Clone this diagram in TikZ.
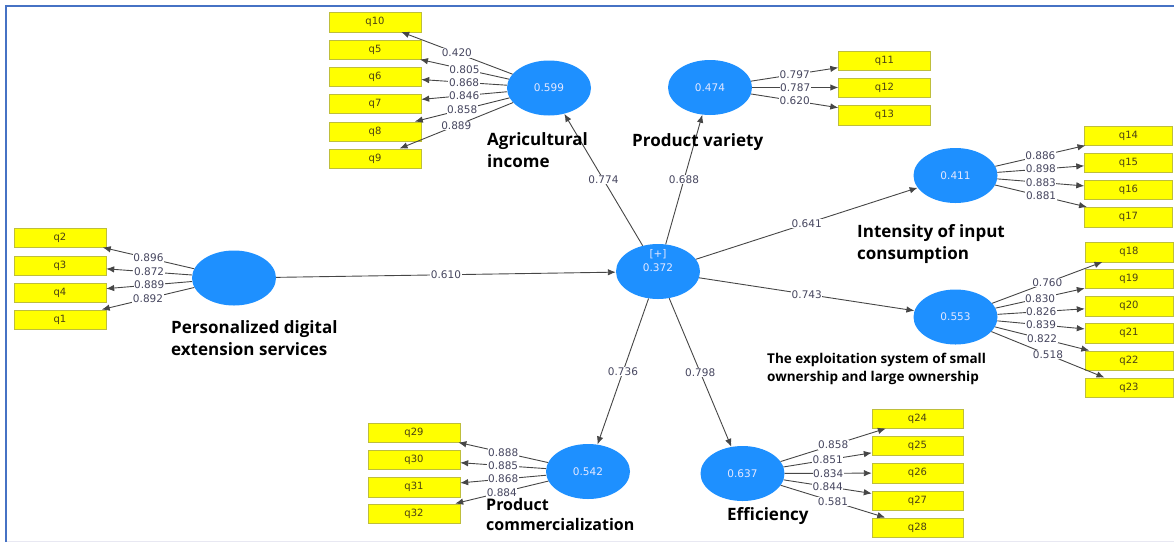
\documentclass[tikz,border=0pt]{standalone}
\usepackage{fontspec}
\setmainfont{DejaVu Sans}
\newfontfamily\cnfont{Open Sans}
\usetikzlibrary{shapes.geometric,arrows.meta}
\definecolor{lvblue}{RGB}{30,144,255}
\definecolor{lvtxt}{RGB}{228,232,255}
\definecolor{boxyel}{RGB}{255,255,0}
\definecolor{boxedge}{RGB}{190,190,60}
\definecolor{boxtxt}{RGB}{75,65,20}
\definecolor{wtxt}{RGB}{70,70,95}
\definecolor{pathcol}{RGB}{70,70,70}
\definecolor{framecol}{RGB}{70,114,196}
\definecolor{basecol}{RGB}{232,232,242}

\begin{document}
\begin{tikzpicture}[x=1pt,y=-1pt,>={Latex[length=8pt,width=6.5pt]},
  lv/.style={ellipse,fill=lvblue,minimum width=84pt,minimum height=55pt,inner sep=0pt,text=lvtxt,font=\fontsize{10.5}{13}\selectfont},
  ind/.style={rectangle,draw=boxedge,fill=boxyel,minimum width=92pt,minimum height=19.5pt,inner sep=0pt,text=boxtxt,font=\fontsize{10}{11}\selectfont},
  wt/.style={fill=white,inner sep=0.6pt,text=wtxt,font=\fontsize{10.5}{12}\selectfont},
  lnk/.style={->,draw=pathcol,line width=0.9pt},
  cname/.style={inner sep=0pt,align=left,font=\cnfont\bfseries\fontsize{17}{22}\selectfont}]
          \useasboundingbox (0,0) rectangle (1174,542);
          \draw[basecol, line width=1pt] (6,541) -- (1174,541);
          \draw[framecol, line width=2pt] (6,542) -- (6,6) -- (1174,6);
          \node[lv] (agr) at (549,88) {0.599};
          \node[lv] (pv) at (710,87.5) {0.474};
          \node[lv] (inp) at (955.5,175.5) {0.411};
          \node[lv] (exp) at (955.5,317) {0.553};
          \node[lv] (pds) at (234,278) {};
          \node[lv] (cen) at (658,271.5) {};
          \node[text=lvtxt, align=center, font=\fontsize{10.5}{14}\selectfont] (cenT) at (658,261) {[+]\\0.372};
          \node[lv] (com) at (588,471.5) {0.542};
          \node[lv] (eff) at (742.5,473.5) {0.637};
          \draw[lnk] (pds) -- (cen) node[midway,wt] {0.610};
          \draw[lnk] (cen) -- (agr) node[midway,wt] {0.774};
          \draw[lnk] (cen) -- (pv) node[midway,wt] {0.688};
          \draw[lnk] (cen) -- (inp) node[midway,wt] {0.641};
          \draw[lnk] (cen) -- (exp) node[midway,wt] {0.743};
          \draw[lnk] (cen) -- (com) node[midway,wt] {0.736};
          \draw[lnk] (cen) -- (eff) node[midway,wt] {0.798};
          \foreach \q/\y/\w in {q10/22/0.420,q5/49.5/0.805,q6/76.5/0.868,q7/103.5/0.846,q8/131.5/0.858,q9/158.5/0.889}
          {
          \node[ind] (\q) at (375,\y) {\q};
          \draw[lnk] (agr) -- (\q) node[midway,wt] {\w};
          }
          \foreach \q/\y/\w in {q11/60.5/0.797,q12/87.5/0.787,q13/115/0.620}
          {
          \node[ind] (\q) at (884.5,\y) {\q};
          \draw[lnk] (pv) -- (\q) node[midway,wt] {\w};
          }
          \foreach \q/\y/\w in {q14/135.5/0.886,q15/162.5/0.898,q16/189.5/0.883,q17/217/0.881}
          {
          \node[ind, minimum width=88pt] (\q) at (1128.5,\y) {\q};
          \draw[lnk] (inp) -- (\q) node[midway,wt] {\w};
          }
          \foreach \q/\y/\w in {q18/252/0.760,q19/278.5/0.830,q20/306/0.826,q21/333/0.839,q22/360.5/0.822,q23/387.5/0.518}
          {
          \node[ind, minimum width=88pt] (\q) at (1129,\y) {\q};
          \draw[lnk] (exp) -- (\q) node[midway,wt] {\w};
          }
          \foreach \q/\y/\w in {q2/237.5/0.896,q3/265.5/0.872,q4/292.5/0.889,q1/319.5/0.892}
          {
          \node[ind] (\q) at (60,\y) {\q};
          \draw[lnk] (pds) -- (\q) node[midway,wt] {\w};
          }
          \foreach \q/\y/\w in {q29/432.5/0.888,q30/459.5/0.885,q31/487/0.868,q32/513.5/0.884}
          {
          \node[ind] (\q) at (414,\y) {\q};
          \draw[lnk] (com) -- (\q) node[midway,wt] {\w};
          }
          \foreach \q/\y/\w in {q24/418.5/0.858,q25/445.5/0.851,q26/473/0.834,q27/500.5/0.844,q28/527.5/0.581}
          {
          \node[ind, minimum width=91pt] (\q) at (917.5,\y) {\q};
          \draw[lnk] (eff) -- (\q) node[midway,wt] {\w};
          }
          \node[cname, anchor=north west] (agrT) at (487,132) {Agricultural\\income};
          \node[cname, anchor=base west] (pvT) at (632,146) {Product variety};
          \node[cname, anchor=north west] (inpT) at (857,224) {Intensity of input\\consumption};
          \node[cname, anchor=north west, font=\cnfont\bfseries\fontsize{13.5}{17.5}\selectfont] (expT) at (767,353) {The exploitation system of small\\ownership and large ownership};
          \node[cname, anchor=north west] (pdsT) at (171,320) {Personalized digital\\extension services};
          \node[cname, anchor=north west, font=\cnfont\bfseries\fontsize{16}{20}\selectfont] (comT) at (486,498) {Product\\commercialization};
          \node[cname, anchor=base west] (effT) at (727,520) {Efficiency};
        \end{tikzpicture}
\end{document}
